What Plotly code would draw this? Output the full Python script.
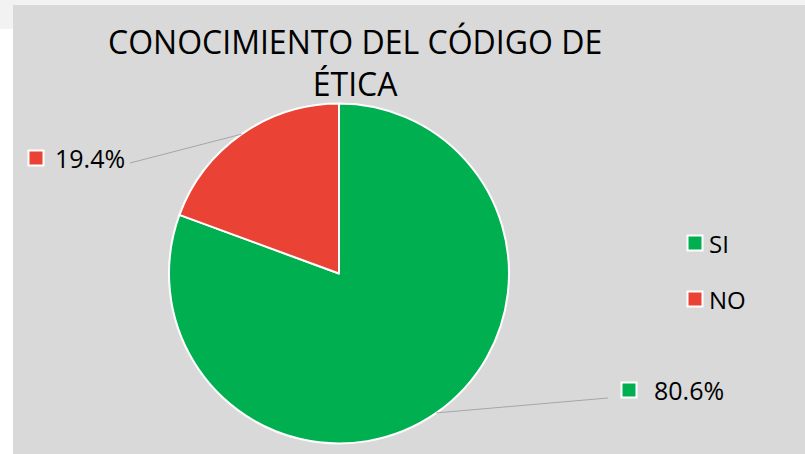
import math
import plotly.graph_objects as go

W, H = 805, 454
labels = ["SI", "NO"]
values = [80.6, 19.4]
colors = ["#00B050", "#EA4335"]
title_lines = ["CONOCIMIENTO DEL CÓDIGO DE", "ÉTICA"]

FONT = "Open Sans"

def px(x):
    return x / W

def py(y):
    return 1 - y / H

cx, cy, r = 339, 273.5, 170

fig = go.Figure()
fig.add_trace(go.Pie(
    labels=labels, values=values, sort=False, direction="clockwise", rotation=0,
    marker=dict(colors=colors, line=dict(color="white", width=2)),
    textinfo="none", hoverinfo="label+percent", showlegend=False,
    domain=dict(x=[px(cx - r), px(cx + r)], y=[py(cy + r), py(cy - r)]),
))

shapes = []
annotations = []
# background panels
shapes.append(dict(type="rect", xref="paper", yref="paper", x0=0, x1=1, y0=py(5), y1=1,
                   fillcolor="#F2F2F2", line_width=0, layer="below"))
shapes.append(dict(type="rect", xref="paper", yref="paper", x0=0, x1=px(13), y0=py(29), y1=1,
                   fillcolor="#F2F2F2", line_width=0, layer="below"))
shapes.append(dict(type="rect", xref="paper", yref="paper", x0=px(13), x1=1, y0=0, y1=py(5),
                   fillcolor="#D9D9D9", line_width=0, layer="below"))

# title
annotations.append(dict(text="<br>".join(title_lines), x=px(355), y=py(63), xref="paper", yref="paper",
                        showarrow=False, xanchor="center", yanchor="middle",
                        font=dict(family=FONT, size=32, color="#000000")))

# data labels with leader lines
total = sum(values)
label_pos = {"NO": (130, 163, 90, 158, 36), "SI": (608, 398, 689, 390, 629)}
S = 7.5
cum = 0
for lab, v, c in zip(labels, values, colors):
    mid = (cum + v / 2) / total * 2 * math.pi
    cum += v
    ex = cx + r * math.sin(mid)
    ey = cy - r * math.cos(mid)
    lx, ly, tx, ty, mx = label_pos[lab]
    shapes.append(dict(type="line", xref="paper", yref="paper", x0=px(ex), y0=py(ey), x1=px(lx), y1=py(ly),
                       line=dict(color="#A6A6A6", width=1)))
    shapes.append(dict(type="rect", xref="paper", yref="paper", x0=px(mx - S), x1=px(mx + S),
                       y0=py(ty + S), y1=py(ty - S), fillcolor=c, line=dict(color="white", width=2)))
    pct = v / total * 100
    annotations.append(dict(text=f"{pct:.1f}%", x=px(tx), y=py(ty), xref="paper", yref="paper",
                            showarrow=False, xanchor="center", yanchor="middle",
                            font=dict(family=FONT, size=25, color="#000000")))

# legend
for i, (lab, c) in enumerate(zip(labels, colors)):
    ly = 243 + i * 56
    shapes.append(dict(type="rect", xref="paper", yref="paper", x0=px(695 - S), x1=px(695 + S),
                       y0=py(ly + S), y1=py(ly - S), fillcolor=c, line=dict(color="white", width=2)))
    annotations.append(dict(text=lab, x=px(707), y=py(ly), xref="paper", yref="paper",
                            showarrow=False, xanchor="left", yanchor="middle",
                            font=dict(family=FONT, size=24, color="#000000")))

fig.update_layout(
    width=W, height=H, margin=dict(l=0, r=0, t=0, b=0),
    paper_bgcolor="white", plot_bgcolor="white",
    shapes=shapes, annotations=annotations,
)
fig.write_html("out.html", config={"displayModeBar": False},
               post_script="document.body.style.margin='0';")
